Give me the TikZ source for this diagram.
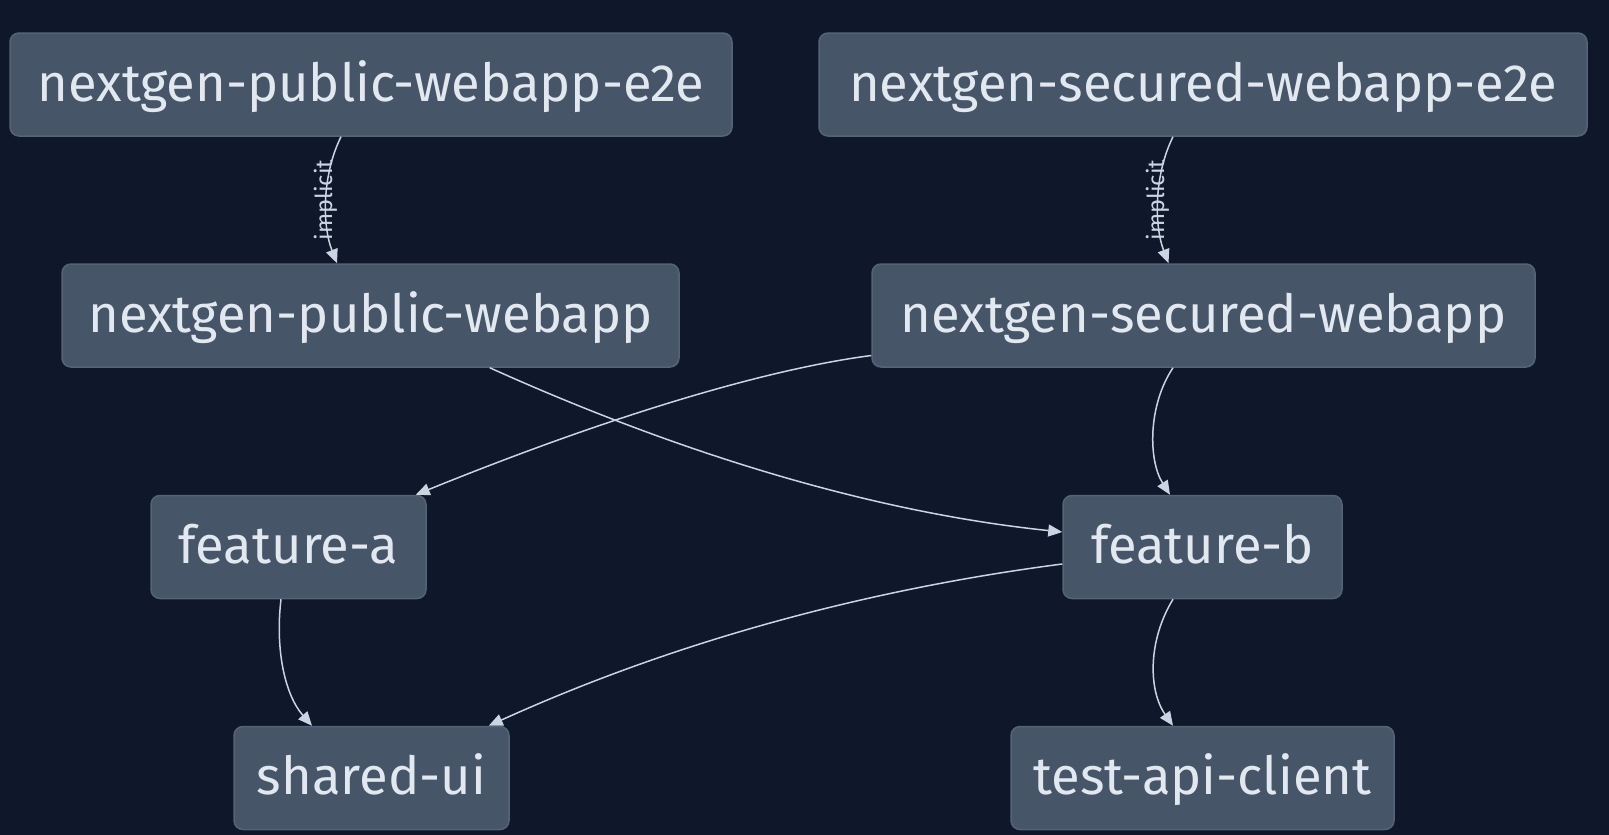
\documentclass[tikz,border=0pt]{standalone}
\usepackage{fontspec}
\setmainfont{Fira Sans}
\usepackage{xcolor}
\usepackage{tikz}
\usetikzlibrary{arrows.meta}

\definecolor{bgDark}{HTML}{0F172A}
\definecolor{boxFill}{HTML}{475569}
\definecolor{boxLine}{HTML}{556379}
\definecolor{textLight}{HTML}{E2E8F0}
\definecolor{edgeLight}{HTML}{CBD5E1}

\begin{document}
\begin{tikzpicture}[x=1pt, y=-1pt,
    pkg/.style={draw=boxLine, line width=1.5pt, fill=boxFill, rounded corners=9pt, text=textLight,
        font=\fontsize{52.5}{60}\selectfont, minimum height=103pt, inner sep=0pt, text height=40pt, text depth=7pt},
    dep/.style={draw=edgeLight, line width=1.5pt, -{Triangle[length=14pt, width=12pt]}},
    tag/.style={text=edgeLight, font=\fontsize{23.5}{25}\selectfont, rotate=90, inner sep=0pt}]
    % Canvas
    \fill[bgDark] (0,0) rectangle (1609,835);
    \useasboundingbox (0,0) rectangle (1609,835);

    % Projects, row by row
    \node[pkg, minimum width=722pt] (pubE2e) at (371, 84.5) {nextgen-public-webapp-e2e};
    \node[pkg, minimum width=768pt] (secE2e) at (1203, 84.5) {nextgen-secured-webapp-e2e};
    \node[pkg, minimum width=617pt] (pubWebapp) at (370.5, 315.5) {nextgen-public-webapp};
    \node[pkg, minimum width=663pt] (secWebapp) at (1203.5, 315.5) {nextgen-secured-webapp};
    \node[pkg, minimum width=275pt] (featA) at (288.5, 547) {feature-a};
    \node[pkg, minimum width=279pt] (featB) at (1202.5, 547) {feature-b};
    \node[pkg, minimum width=275pt] (sharedUi) at (371.5, 778) {shared-ui};
    \node[pkg, minimum width=383pt] (apiClient) at (1202.5, 778) {test-api-client};

    % Implicit e2e dependencies
    \draw[dep] ([xshift=-30pt]pubE2e.south) .. controls (322,175) and (322,225) .. ([xshift=-33.5pt]pubWebapp.north)
        node[tag, pos=0.5] {implicit};
    \draw[dep] ([xshift=-30pt]secE2e.south) .. controls (1154,175) and (1154,225) .. ([xshift=-35pt]secWebapp.north)
        node[tag, pos=0.5] {implicit};

    % Webapps to features
    \draw[dep] ([yshift=-40pt]secWebapp.west) .. controls (760,370) and (600,420) .. ([xshift=-11pt]featA.north east);
    \draw[dep] ([xshift=-190pt]pubWebapp.south east) .. controls (650,440) and (850,510) .. ([yshift=15pt]featB.west);
    \draw[dep] ([xshift=-30.5pt]secWebapp.south) .. controls (1148,405) and (1148,460) .. ([xshift=-32.5pt]featB.north);

    % Features to libraries
    \draw[dep] ([xshift=-7.5pt]featA.south) .. controls (275,650) and (285,695) .. ([xshift=-59.5pt]sharedUi.north);
    \draw[dep] ([yshift=-17pt]featB.west) .. controls (900,585) and (700,630) .. ([xshift=-21pt]sharedUi.north east);
    \draw[dep] ([xshift=-29.5pt]featB.south) .. controls (1148,640) and (1148,690) .. ([xshift=-29.5pt]apiClient.north);
\end{tikzpicture}
\end{document}
